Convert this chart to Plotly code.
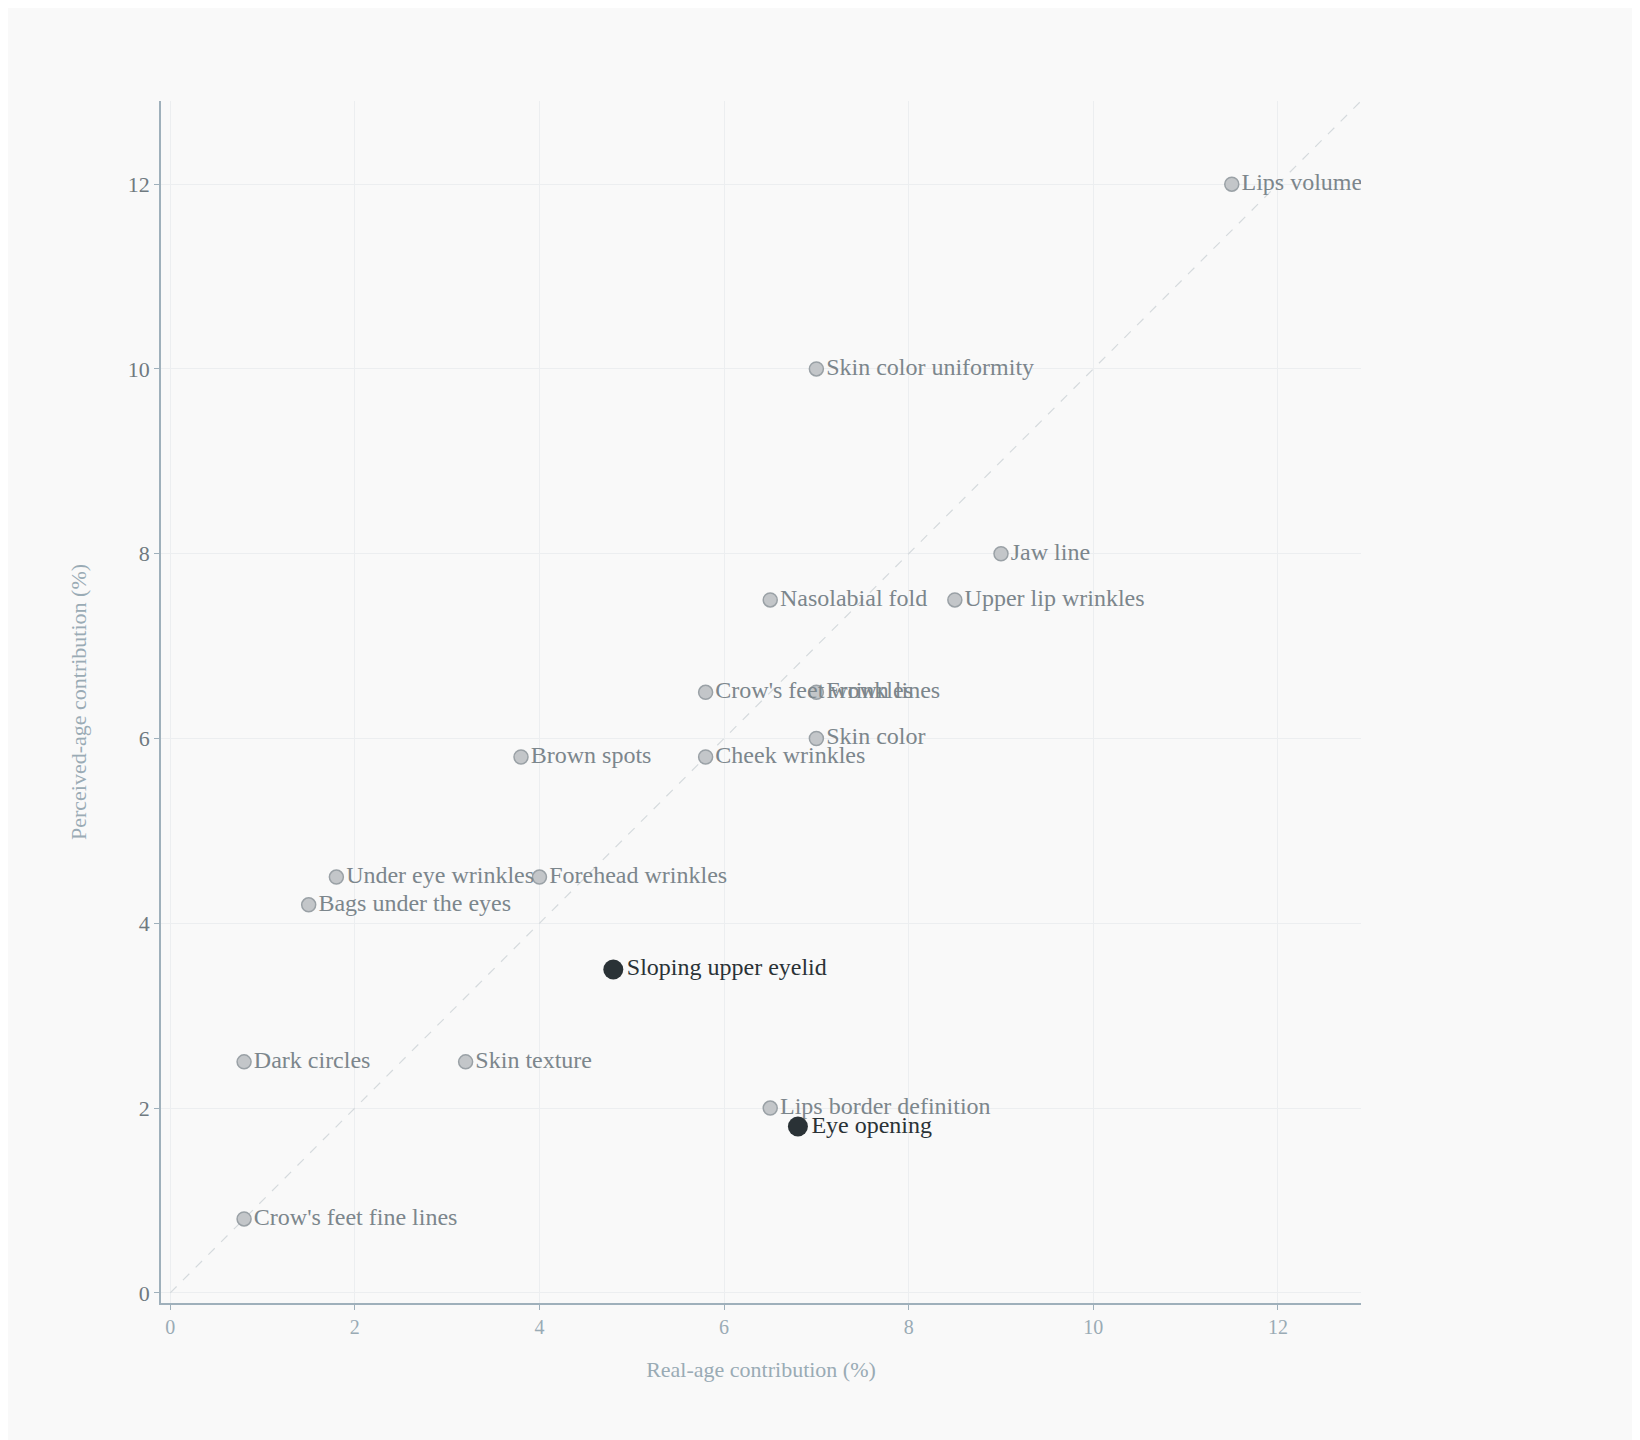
import plotly.graph_objects as go

labels = ["Lips volume", "Skin color uniformity", "Jaw line", "Nasolabial fold",
          "Upper lip wrinkles", "Crow's feet wrinkles", "Frown lines", "Skin color",
          "Brown spots", "Cheek wrinkles", "Under eye wrinkles", "Forehead wrinkles",
          "Bags under the eyes", "Dark circles", "Skin texture",
          "Lips border definition", "Crow's feet fine lines"]
real = [11.5, 7, 9, 6.5, 8.5, 5.8, 7, 7, 3.8, 5.8, 1.8, 4, 1.5, 0.8, 3.2, 6.5, 0.8]
perceived = [12, 10, 8, 7.5, 7.5, 6.5, 6.5, 6, 5.8, 5.8, 4.5, 4.5, 4.2, 2.5, 2.5, 2, 0.8]

hl_labels = ["Sloping upper eyelid", "Eye opening"]
hl_real = [4.8, 6.8]
hl_perceived = [3.5, 1.8]

fig = go.Figure()

# diagonal reference line
fig.add_trace(go.Scatter(x=[0, 13], y=[0, 13], mode="lines", hoverinfo="skip",
                         line=dict(color="#d5dadd", width=1.2, dash="dash"),
                         showlegend=False))

fig.add_trace(go.Scatter(
    x=real, y=perceived, text=labels, mode="markers+text",
    textposition="middle right",
    textfont=dict(family="Liberation Serif", size=24, color="#7c868c"),
    marker=dict(size=14, color="#c3c6c9", line=dict(color="#9aa1a6", width=1.5)),
    showlegend=False))

fig.add_trace(go.Scatter(
    x=hl_real, y=hl_perceived, text=hl_labels, mode="markers+text",
    textposition="middle right",
    textfont=dict(family="Liberation Serif", size=24, color="#2a3236"),
    marker=dict(size=20, color="#2a3236"),
    showlegend=False))

axis_common = dict(
    showgrid=True, gridcolor="#eceef0", zeroline=False,
    showline=True, linecolor="#9fb0bb", linewidth=1.5,
    ticks="outside", tickcolor="#9fb0bb", ticklen=5,
    dtick=2,
)

fig.update_xaxes(axis_common, range=[-0.1, 12.9],
                 title=dict(text="Real-age contribution (%)", standoff=25,
                            font=dict(family="Liberation Serif", size=22, color="#9aabb5")),
                 tickfont=dict(family="Liberation Serif", size=20, color="#9aabb5"))
fig.update_yaxes(axis_common, range=[-0.11, 12.9],
                 title=dict(text="Perceived-age contribution (%)", standoff=35,
                            font=dict(family="Liberation Serif", size=22, color="#9aabb5")),
                 tickfont=dict(family="Liberation Serif", size=22, color="#6f7a80"))

fig.update_layout(
    width=1640, height=1440,
    paper_bgcolor="#f9f9f9", plot_bgcolor="#f9f9f9",
    margin=dict(l=153, r=287, t=93, b=145),
)

fig.write_html("out.html")
